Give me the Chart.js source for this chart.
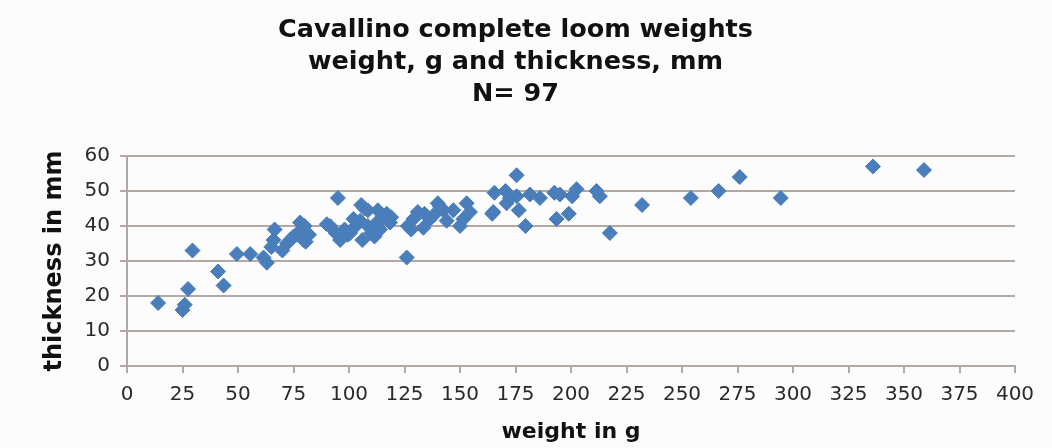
<!DOCTYPE html>
<html>
<head>
<meta charset="utf-8">
<script src="https://cdn.jsdelivr.net/npm/chart.js@4"></script>
<style>
html,body{margin:0;padding:0;background:#fcfcfc;}
#wrap{width:1052px;height:448px;}
</style>
</head>
<body>
<div id="wrap"><canvas id="c" width="1052" height="448"></canvas></div>
<script>
const titleLines = ["Cavallino complete loom weights", "weight, g and thickness, mm", "N= 97"];
const xTitle = "weight in g";
const yTitle = "thickness in mm";
const xTicks = [0,25,50,75,100,125,150,175,200,225,250,275,300,325,350,375,400];
const yTicks = [0,10,20,30,40,50,60];

// weight in g
const weights = [
 14, 25, 26, 27.5, 29.5, 41, 43.5, 49.5, 55.5, 61.5,
 63, 65, 66, 66.5, 70, 72, 73.5, 75, 76.5, 78,
 78.5, 79.5, 80, 82, 80.5, 90, 91.5, 95, 94, 96,
 97, 98, 99.5, 100.5, 102, 103, 105, 106, 105.5, 107,
 108.5, 108.5, 110, 111.5, 112.5, 113, 114, 115.5, 117, 118.5,
 119, 126, 126.5, 128, 129, 131, 133.5, 134, 136.5, 138,
 140, 141, 142.5, 144, 147, 150, 151.5, 153, 154.5, 164.5,
 165.5, 165, 170.5, 171, 172.5, 175.5, 175.5, 176.5, 179.5, 181.5,
 186, 192.5, 193.5, 195, 199, 200.5, 202.5, 211.5, 213, 217.5,
 232, 254, 266.5, 276, 294.5, 336, 359
];
// thickness in mm
const thickness = [
 18, 16, 17.5, 22, 33, 27, 23, 32, 32, 31,
 29.5, 34, 36, 39, 33, 35, 36, 37, 37.5, 41,
 39, 36, 40, 37.5, 35.5, 40.5, 40, 48, 38, 36,
 37, 39, 37.5, 38, 42, 40, 41.5, 36, 46, 45,
 44.5, 40, 38, 37, 41, 44.5, 39, 42.5, 43.5, 41,
 42.5, 31, 40, 39, 42, 44, 39.5, 43.5, 42, 43,
 46.5, 45.5, 44.5, 41.5, 44.5, 40, 42, 46.5, 44, 43.5,
 49.5, 44, 50, 46.5, 48, 54.5, 48.5, 44.5, 40, 49,
 48, 49.5, 42, 49, 43.5, 48.5, 50.5, 50, 48.5, 38,
 46, 48, 50, 54, 48, 57, 56
];

const points = weights.map((w, i) => ({x: w, y: thickness[i]}));

const gridColor = '#b3a8a3';
const tickColor = '#2a2a2a';

const bgPlugin = {
  id: 'bg',
  beforeDraw(chart) {
    const ctx = chart.ctx;
    ctx.save();
    ctx.fillStyle = '#fcfcfc';
    ctx.fillRect(0, 0, chart.width, chart.height);
    ctx.restore();
  }
};

new Chart(document.getElementById('c'), {
  type: 'scatter',
  data: {
    datasets: [{
      data: points,
      pointStyle: 'rectRot',
      pointRadius: 7.5,
      pointHoverRadius: 7.5,
      borderWidth: 1,
      backgroundColor: '#4a7ebb',
      borderColor: '#4a7ebb'
    }]
  },
  plugins: [bgPlugin],
  options: {
    responsive: false,
    animation: false,
    devicePixelRatio: 1,
    layout: { padding: { left: 16, right: 37, top: 0, bottom: 0 } },
    plugins: {
      legend: { display: false },
      tooltip: { enabled: false },
      title: {
        display: true,
        text: titleLines,
        color: '#111',
        font: { family: 'DejaVu Sans', weight: 'bold', size: 25.5, lineHeight: 1.255 },
        padding: { top: 14, bottom: 46 }
      }
    },
    scales: {
      x: {
        type: 'linear',
        min: xTicks[0],
        max: xTicks[xTicks.length - 1],
        afterBuildTicks(scale) { scale.ticks = xTicks.map(v => ({value: v})); },
        afterFit(scale) { scale.height = 82; },
        ticks: {
          color: tickColor,
          font: { family: 'DejaVu Sans', size: 20 },
          padding: 10,
          maxRotation: 0,
          autoSkip: false
        },
        grid: {
          drawOnChartArea: false,
          drawTicks: true,
          tickLength: 7,
          color: gridColor,
          lineWidth: 2
        },
        border: { color: gridColor, width: 2 },
        title: {
          display: true,
          text: xTitle,
          color: '#111',
          font: { family: 'DejaVu Sans', weight: 'bold', size: 22, lineHeight: 1.2 },
          padding: { top: 3, bottom: 3 }
        }
      },
      y: {
        type: 'linear',
        min: yTicks[0],
        max: yTicks[yTicks.length - 1],
        afterBuildTicks(scale) { scale.ticks = yTicks.map(v => ({value: v})); },
        afterFit(scale) { scale.width = 111; },
        ticks: {
          color: tickColor,
          font: { family: 'DejaVu Sans', size: 20 },
          padding: 10
        },
        grid: {
          drawTicks: true,
          tickLength: 7,
          color: gridColor,
          lineWidth: 2
        },
        border: { color: gridColor, width: 2 },
        title: {
          display: true,
          text: yTitle,
          color: '#111',
          font: { family: 'DejaVu Sans', weight: 'bold', size: 24, lineHeight: 1.2 },
          padding: { top: 24, bottom: 0 }
        }
      }
    }
  }
});
</script>
</body>
</html>
